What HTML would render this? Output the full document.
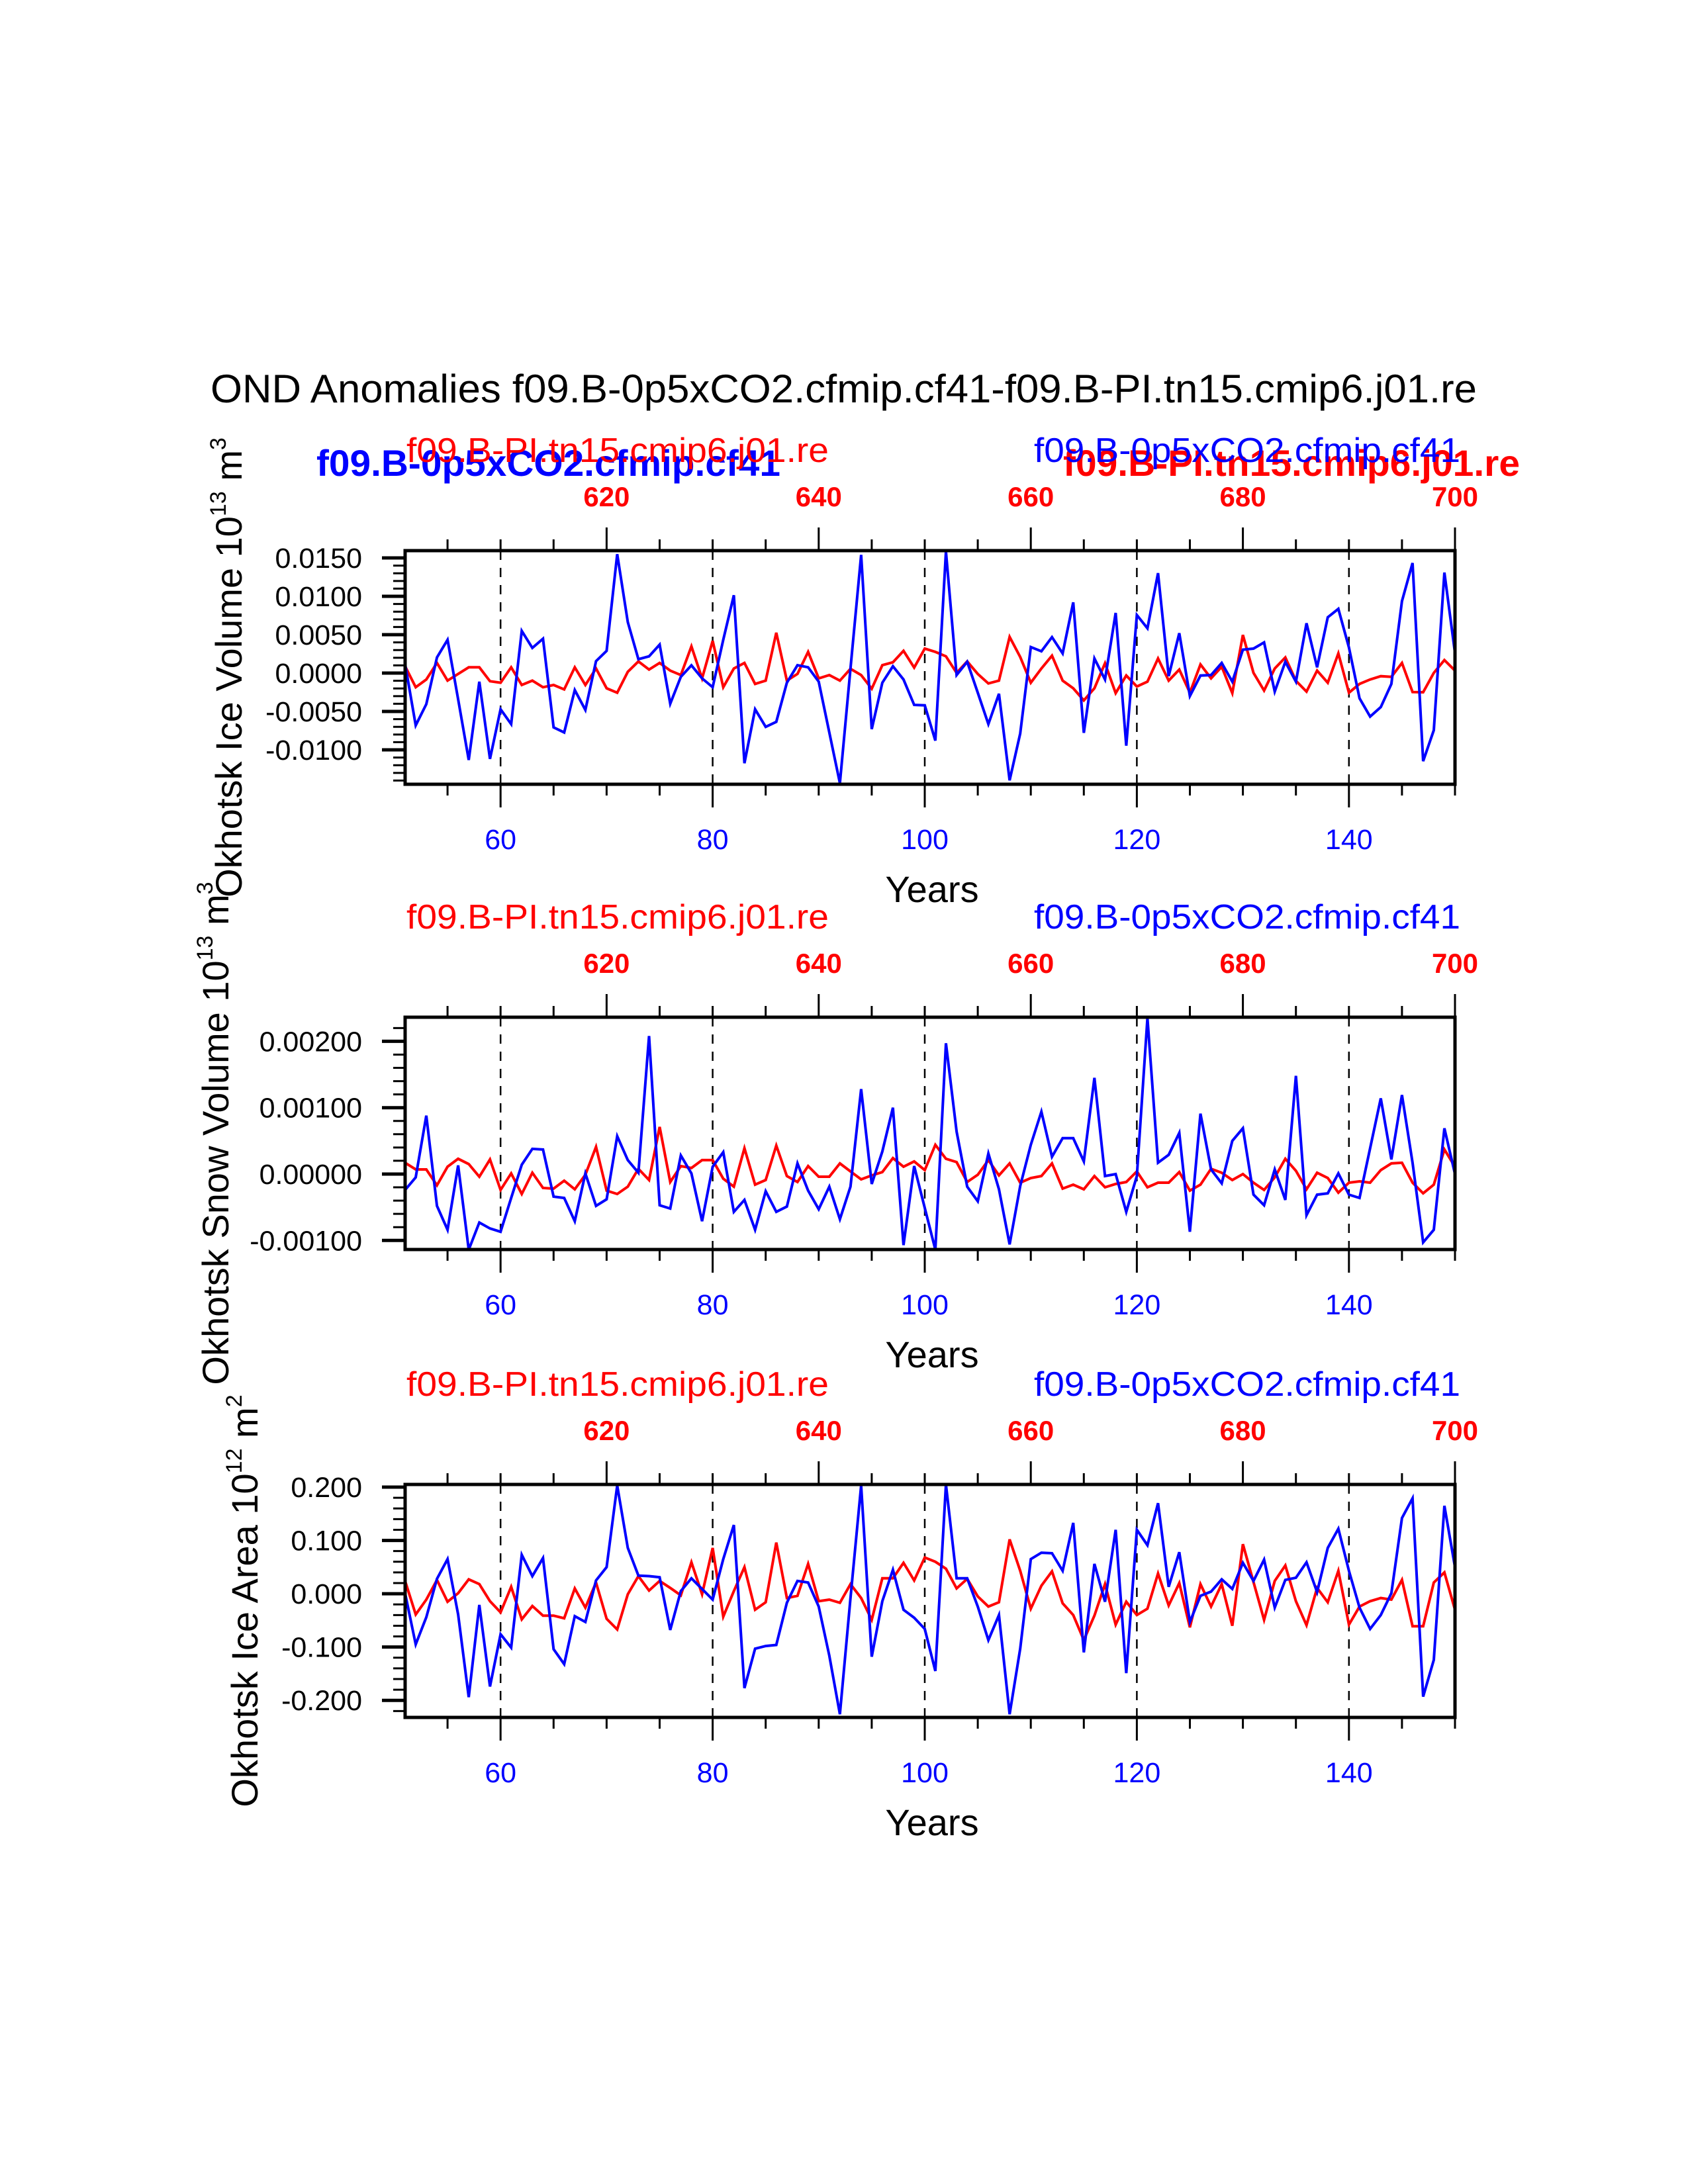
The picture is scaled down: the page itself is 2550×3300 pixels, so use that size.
<!DOCTYPE html>
<html><head><meta charset="utf-8"><style>
html,body{margin:0;padding:0;background:#fff;}
svg{display:block;font-family:"Liberation Sans",Arial,sans-serif;}
</style></head><body>
<svg id="chart" width="2550" height="3300" viewBox="0 0 2550 3300" xmlns="http://www.w3.org/2000/svg">
<rect width="2550" height="3300" fill="#fff"/>
<text x="318" y="608" font-size="60" textLength="1913" lengthAdjust="spacingAndGlyphs">OND Anomalies f09.B-0p5xCO2.cfmip.cf41-f09.B-PI.tn15.cmip6.j01.re</text>
<text x="478" y="719" font-size="56" font-weight="bold" fill="#0000ff" textLength="701" lengthAdjust="spacingAndGlyphs">f09.B-0p5xCO2.cfmip.cf41</text>
<text x="1606" y="719" font-size="56" font-weight="bold" fill="#ff0000" textLength="690" lengthAdjust="spacingAndGlyphs">f09.B-PI.tn15.cmip6.j01.re</text>
</svg>
<script>
// ---- data (years 51..150) ----
const years = Array.from({length:100},(_,i)=>51+i);
// Panel 1: Ice volume, units 1e-3 (x10^13 m^3)
const iceVolBlue = [1.18,-6.81,-4.05,2.04,4.34,-3.42,-11.32,-1.12,-11.18,-4.71,-6.64,5.49,3.28,4.48,-7.07,-7.73,-2.21,-4.80,1.55,2.90,15.49,6.64,1.81,2.18,3.71,-3.99,-0.49,1.01,-0.69,-1.84,4.34,10.14,-11.75,-4.71,-7.01,-6.35,-1.26,1.03,0.75,-1.12,-7.73,-14.34,0.60,15.40,-7.30,-1.26,0.89,-0.83,-4.14,-4.20,-8.79,15.83,-0.26,1.47,-2.56,-6.64,-2.70,-13.97,-7.87,3.39,2.84,4.68,2.56,9.22,-7.79,1.90,-0.83,7.84,-9.45,7.56,5.83,13.02,-0.40,5.20,-2.99,-0.32,-0.26,1.32,-1.12,3.05,3.19,3.99,-2.41,1.47,-1.12,6.49,0.75,7.27,8.36,3.33,-3.28,-5.66,-4.43,-1.41,9.37,14.34,-11.47,-7.44,13.10,2.61];
const iceVolRed = [0.89,-1.84,-0.83,1.32,-0.98,-0.11,0.75,0.75,-1.06,-1.26,0.75,-1.55,-0.98,-1.84,-1.55,-2.13,0.75,-1.55,0.60,-1.98,-2.56,0.17,1.52,0.46,1.32,0.32,-0.26,3.48,-0.69,4.20,-1.84,0.60,1.32,-1.41,-0.98,5.26,-0.98,-0.11,2.76,-0.69,-0.26,-0.98,0.55,-0.26,-2.04,1.03,1.41,2.90,0.72,3.19,2.76,2.18,0.03,1.52,-0.11,-1.35,-0.98,4.71,2.10,-1.26,0.60,2.27,-0.98,-1.98,-3.56,-1.98,1.29,-2.61,-0.32,-1.75,-1.12,1.90,-0.98,0.46,-2.56,1.12,-0.69,0.83,-2.61,4.97,0.03,-2.27,0.60,2.04,-1.01,-2.41,0.32,-1.26,2.56,-2.56,-1.41,-0.83,-0.40,-0.49,1.32,-2.47,-2.50,0.03,1.70,0.32];
// Panel 2: Snow volume, units 1e-3
const snowBlue = [-0.24,-0.05,0.88,-0.48,-0.84,0.13,-1.14,-0.73,-0.82,-0.87,-0.36,0.14,0.38,0.37,-0.34,-0.36,-0.71,0.01,-0.48,-0.38,0.57,0.21,0.02,2.08,-0.47,-0.52,0.28,0.01,-0.71,0.11,0.33,-0.57,-0.39,-0.84,-0.26,-0.57,-0.49,0.16,-0.25,-0.53,-0.19,-0.68,-0.19,1.28,-0.15,0.34,1.00,-1.07,0.12,-0.51,-1.14,1.97,0.64,-0.19,-0.41,0.31,-0.23,-1.06,-0.18,0.44,0.94,0.26,0.54,0.54,0.19,1.45,-0.03,0.00,-0.57,-0.03,2.35,0.17,0.29,0.62,-0.87,0.91,0.07,-0.14,0.50,0.69,-0.31,-0.47,0.07,-0.39,1.48,-0.62,-0.31,-0.29,0.01,-0.31,-0.36,0.39,1.14,0.22,1.19,0.17,-1.03,-0.84,0.69,0.00];
const snowRed = [0.17,0.07,0.07,-0.17,0.11,0.23,0.15,-0.04,0.22,-0.24,0.01,-0.30,0.02,-0.21,-0.22,-0.10,-0.23,-0.01,0.41,-0.25,-0.30,-0.19,0.08,-0.09,0.71,-0.12,0.12,0.09,0.21,0.21,-0.07,-0.19,0.39,-0.16,-0.09,0.43,-0.03,-0.12,0.12,-0.04,-0.04,0.16,0.04,-0.08,-0.02,0.03,0.24,0.11,0.19,0.06,0.44,0.23,0.18,-0.12,-0.01,0.21,-0.02,0.16,-0.13,-0.06,-0.03,0.16,-0.22,-0.16,-0.23,-0.03,-0.20,-0.15,-0.12,0.04,-0.20,-0.13,-0.13,0.03,-0.25,-0.16,0.08,0.02,-0.09,0.00,-0.13,-0.24,-0.05,0.23,0.05,-0.23,0.02,-0.06,-0.28,-0.13,-0.11,-0.13,0.06,0.16,0.17,-0.13,-0.29,-0.16,0.37,0.11];
// Panel 3: Ice area, units 0.01 (x10^12 m^2)
const areaBlue = [0.08,-9.5,-4.4,2.8,6.5,-3.9,-19.4,-2.1,-17.4,-7.6,-10.1,7.3,3.3,6.7,-10.4,-13.2,-4.2,-5.3,2.5,5.0,20.3,8.6,3.4,3.3,3.1,-6.8,0.5,2.9,0.9,-1.1,6.5,12.9,-17.7,-10.3,-9.8,-9.6,-1.7,2.4,2.1,-2.4,-11.6,-22.6,-0.8,20.3,-11.8,-1.4,4.5,-3.0,-4.5,-6.6,-14.5,20.5,2.9,2.9,-2.4,-8.7,-4.0,-22.6,-10.3,6.5,7.7,7.6,4.3,13.3,-11.0,5.6,-1.5,12.0,-14.9,12.0,9.1,17.0,1.3,7.8,-5.3,-0.4,0.4,2.7,0.9,5.8,2.4,6.4,-2.6,2.6,3.0,5.9,0.3,8.6,12.2,4.3,-2.6,-6.6,-4.0,0.1,14.2,17.9,-19.3,-12.4,16.5,5.0];
const areaRed = [2.4,-3.9,-1.1,2.6,-1.5,0.1,2.7,1.8,-1.4,-3.5,1.3,-4.8,-2.3,-4.1,-4.1,-4.6,1.0,-2.6,2.1,-4.7,-6.7,-0.1,3.3,0.6,2.4,1.1,-0.3,5.9,-0.1,8.6,-4.3,0.5,5.0,-3.0,-1.6,9.6,-0.8,-0.4,5.6,-1.4,-1.1,-1.7,1.8,-0.8,-4.9,2.9,2.9,5.8,2.5,6.8,6.0,4.7,1.0,2.8,-0.5,-2.4,-1.6,10.2,4.3,-2.8,1.5,4.2,-1.8,-4.0,-8.7,-4.1,1.8,-5.8,-1.5,-4.0,-2.8,3.8,-2.2,2.0,-6.3,1.8,-2.4,1.8,-6.0,9.3,2.2,-4.9,2.4,5.3,-1.4,-5.9,1.1,-1.6,4.3,-5.8,-2.4,-1.4,-0.8,-1.1,2.6,-6.1,-6.1,2.1,4.0,-3.0];
const p1Ticks = [15,10,5,0,-5,-10];
const p1TickLabels = ["0.0150","0.0100","0.0050","0.0000","-0.0050","-0.0100"];
const p2Ticks = [2,1,0,-1];
const p2TickLabels = ["0.00200","0.00100","0.00000","-0.00100"];
const p3Ticks = [20,10,0,-10,-20];
const p3TickLabels = ["0.200","0.100","0.000","-0.100","-0.200"];
const bottomYears = [60,80,100,120,140];
const topYears = [620,640,660,680,700];

const NS="http://www.w3.org/2000/svg";
const svg=document.getElementById('chart');
function mk(tag,attrs,parent,text){const e=document.createElementNS(NS,tag);for(const k in attrs)e.setAttribute(k,attrs[k]);if(text!==undefined)e.textContent=text;(parent||svg).appendChild(e);return e;}

const L=612,R=2198,X0=51,X1=150;
function xs(yr){return L+(yr-X0)/(X1-X0)*(R-L);}

const panels=[
 {top:832,bot:1185,ymax:15.95,ymin:-14.48,minor:1,ticks:p1Ticks,labels:p1TickLabels,blue:iceVolBlue,red:iceVolRed,name:"ice-volume",ylab:"Okhotsk Ice Volume 10",exp:"13",unit:"m",uexp:"3",ylx:365},
 {top:1537,bot:1888,ymax:2.363,ymin:-1.137,minor:0.2,ticks:p2Ticks,labels:p2TickLabels,blue:snowBlue,red:snowRed,name:"snow-volume",ylab:"Okhotsk Snow Volume 10",exp:"13",unit:"m",uexp:"3",ylx:345},
 {top:2243,bot:2595,ymax:20.5,ymin:-23.2,minor:2,ticks:p3Ticks,labels:p3TickLabels,blue:areaBlue,red:areaRed,name:"ice-area",ylab:"Okhotsk Ice Area 10",exp:"12",unit:"m",uexp:"2",ylx:389}
];

panels.forEach(p=>{
  const g=mk('g',{});
  
  
  const ys=v=>p.bot-(v-p.ymin)/(p.ymax-p.ymin)*(p.bot-p.top);
  // dashed verticals
  bottomYears.forEach(y=>{
    const l=mk('line',{x1:xs(y),x2:xs(y),y1:p.top,y2:p.bot,stroke:'#000','stroke-width':2.5,'stroke-dasharray':'14 12'},g);
    
    
  });
  // minor y ticks
  const start=Math.ceil(p.ymin/p.minor-1e-6);
  for(let k=start;k*p.minor<=p.ymax+1e-9;k++){
    const v=k*p.minor;const yy=ys(v);
    const isMaj=p.ticks.some(t=>Math.abs(t-v)<1e-6);
    mk('line',{x1:L-(isMaj?35:18),x2:L,y1:yy,y2:yy,stroke:'#000','stroke-width':isMaj?5:3},g);
  }
  p.ticks.forEach((t,i)=>{
    const tx=mk('text',{x:547,y:ys(t)+15,'font-size':43,'text-anchor':'end'},g,p.labels[i]);
    
    
  });
  // x ticks bottom and top (every 5 years)
  for(let y=55;y<=150;y+=5){
    const maj=(y%20===0);
    mk('line',{x1:xs(y),x2:xs(y),y1:p.bot,y2:p.bot+(maj?35:17),stroke:'#000','stroke-width':3},g);
    mk('line',{x1:xs(y),x2:xs(y),y1:p.top,y2:p.top-(((y+550)%20===0)?35:17),stroke:'#000','stroke-width':3},g);
  }
  bottomYears.forEach(y=>{
    const t=mk('text',{x:xs(y),y:p.bot+98,'font-size':43,'text-anchor':'middle',fill:'#0000ff'},g,String(y));
    
    
  });
  topYears.forEach(y=>{
    const t=mk('text',{x:xs(y-550),y:p.top-67,'font-size':42,'font-weight':'bold','text-anchor':'middle',fill:'#ff0000'},g,String(y));
    
    
  });
  // series
  const path=arr=>arr.map((v,i)=>(i?'L':'M')+xs(years[i]).toFixed(1)+' '+ys(v).toFixed(1)).join(' ');
  const rl=mk('path',{d:path(p.red),fill:'none',stroke:'#ff0000','stroke-width':4,'stroke-linejoin':'miter'},g);
  
  
  const bl=mk('path',{d:path(p.blue),fill:'none',stroke:'#0000ff','stroke-width':4,'stroke-linejoin':'miter'},g);
  
  
  // frame
  const fr=mk('rect',{x:L,y:p.top,width:R-L,height:p.bot-p.top,fill:'none',stroke:'#000','stroke-width':5},g);
  
  
  // subtitles
  const s1=mk('text',{x:614,y:p.top-134,'font-size':52,fill:'#ff0000',textLength:638,lengthAdjust:'spacingAndGlyphs'},g,'f09.B-PI.tn15.cmip6.j01.re');
  
  
  const s2=mk('text',{x:1562,y:p.top-134,'font-size':52,fill:'#0000ff',textLength:644,lengthAdjust:'spacingAndGlyphs'},g,'f09.B-0p5xCO2.cfmip.cf41');
  
  
  // x axis title
  const xt=mk('text',{x:1408,y:p.bot+178,'font-size':56,'text-anchor':'middle'},g,'Years');
  
  
  // y axis title
  const cy=(p.top+p.bot)/2;
  const yt=mk('text',{x:0,y:0,'font-size':56,'text-anchor':'middle',transform:`translate(${p.ylx},${cy}) rotate(-90)`},g);
  
  
  mk('tspan',{},yt,p.ylab);
  mk('tspan',{'font-size':34,dy:-24},yt,p.exp);
  mk('tspan',{dy:24},yt,' '+p.unit);
  mk('tspan',{'font-size':34,dy:-24},yt,p.uexp);
});
</script>
</body></html>
